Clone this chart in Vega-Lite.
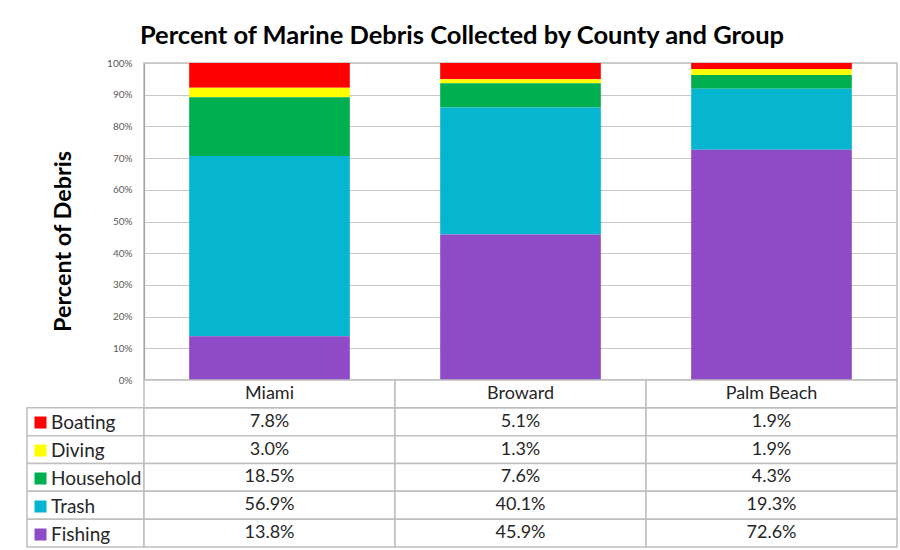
{
  "$schema": "https://vega.github.io/schema/vega-lite/v6.json",
  "padding": {"left": 26, "top": 23, "right": 5, "bottom": 0},
  "autosize": "pad",
  "background": "white",
  "title": {"text": "Percent of Marine Debris Collected by County and Group", "font": "Lato", "fontSize": 25.5, "fontWeight": "bold", "color": "black", "anchor": "middle", "offset": 8},
  "config": {"view": {"stroke": null}, "font": "Lato"},
  "resolve": {"scale": {"color": "independent"}, "legend": {"color": "independent"}},
  "datasets": {
    "debris": [
      {"county": "Miami", "group": "Boating", "pct": 0.078},
      {"county": "Miami", "group": "Diving", "pct": 0.030},
      {"county": "Miami", "group": "Household", "pct": 0.185},
      {"county": "Miami", "group": "Trash", "pct": 0.569},
      {"county": "Miami", "group": "Fishing", "pct": 0.138},
      {"county": "Broward", "group": "Boating", "pct": 0.051},
      {"county": "Broward", "group": "Diving", "pct": 0.013},
      {"county": "Broward", "group": "Household", "pct": 0.076},
      {"county": "Broward", "group": "Trash", "pct": 0.401},
      {"county": "Broward", "group": "Fishing", "pct": 0.459},
      {"county": "Palm Beach", "group": "Boating", "pct": 0.019},
      {"county": "Palm Beach", "group": "Diving", "pct": 0.019},
      {"county": "Palm Beach", "group": "Household", "pct": 0.043},
      {"county": "Palm Beach", "group": "Trash", "pct": 0.193},
      {"county": "Palm Beach", "group": "Fishing", "pct": 0.726}
    ]
  },
  "data": {"name": "debris"},
  "columns": 2,
  "align": "each",
  "bounds": "flush",
  "spacing": 0,
  "concat": [
    {
      "width": 117,
      "height": 317,
      "mark": {"type": "rule", "opacity": 0},
      "encoding": {}
    },
    {
      "width": 753,
      "height": 317,
      "view": {"stroke": "#BFBFBF", "strokeWidth": 1.5},
      "transform": [{"calculate": "indexof(['Fishing', 'Trash', 'Household', 'Diving', 'Boating'], datum.group)", "as": "stackOrder"}],
      "mark": {"type": "bar", "width": {"band": 0.64}},
      "encoding": {
        "x": {"field": "county", "type": "nominal", "sort": ["Miami", "Broward", "Palm Beach"], "scale": {"paddingInner": 0, "paddingOuter": 0}, "axis": null},
        "y": {
          "field": "pct", "type": "quantitative", "stack": "normalize",
          "scale": {"domain": [0, 1], "nice": false},
          "axis": {
            "format": "%", "values": [0, 0.1, 0.2, 0.3, 0.4, 0.5, 0.6, 0.7, 0.8, 0.9, 1],
            "grid": true, "gridColor": "#C8C8C8", "gridWidth": 1.2,
            "domain": true, "domainColor": "#A6A6A6", "domainWidth": 1.2,
            "ticks": false, "tickSize": 0,
            "labelFont": "Lato", "labelFontSize": 10, "labelColor": "#595959", "labelPadding": 12,
            "title": "Percent of Debris", "titleFont": "Lato", "titleFontSize": 23.4, "titleFontWeight": "bold", "titleColor": "black", "titlePadding": 31, "titleY": 178
          }
        },
        "order": {"field": "stackOrder", "type": "quantitative", "sort": "ascending"},
        "color": {
          "field": "group", "type": "nominal",
          "scale": {"domain": ["Boating", "Diving", "Household", "Trash", "Fishing"], "range": ["#FF0000", "#FFFF00", "#00B050", "#06B6D1", "#8F4BC7"]},
          "legend": null
        }
      }
    },
    {
      "width": 117,
      "height": 167,
      "transform": [{"filter": "datum.county === 'Miami'"}],
      "layer": [
        {
          "mark": {"type": "rect", "fill": "white", "stroke": "#BFBFBF", "strokeWidth": 1.5},
          "encoding": {
            "y": {"field": "group", "type": "nominal", "scale": {"domain": ["County", "Boating", "Diving", "Household", "Trash", "Fishing"], "paddingInner": 0, "paddingOuter": 0}, "axis": null}
          }
        },
        {
          "mark": {"type": "square", "opacity": 0, "filled": true},
          "encoding": {
            "y": {"field": "group", "type": "nominal", "axis": null},
            "color": {
              "field": "group", "type": "nominal",
              "scale": {"domain": ["Boating", "Diving", "Household", "Trash", "Fishing"], "range": ["#FF0000", "#FFFF00", "#00B050", "#06B6D1", "#8F4BC7"]},
              "legend": {
                "orient": "none", "legendX": 4, "legendY": 33, "direction": "vertical", "title": null,
                "symbolType": "square", "symbolSize": 144, "symbolStrokeWidth": 0, "symbolOpacity": 1,
                "labelFont": "Lato", "labelFontSize": 19, "labelColor": "#262626", "labelOffset": 1, "rowPadding": 8
              }
            }
          }
        }
      ]
    },
    {
      "width": 753,
      "height": 167,
      "encoding": {
        "x": {"field": "county", "type": "nominal", "sort": ["Miami", "Broward", "Palm Beach"], "scale": {"paddingInner": 0, "paddingOuter": 0}, "axis": null}
      },
      "layer": [
        {
          "mark": {"type": "rect", "fill": "white", "stroke": "#BFBFBF", "strokeWidth": 1.5},
          "encoding": {
            "y": {"field": "group", "type": "nominal", "scale": {"domain": ["County", "Boating", "Diving", "Household", "Trash", "Fishing"], "paddingInner": 0, "paddingOuter": 0}, "axis": null}
          }
        },
        {
          "mark": {"type": "text", "font": "Lato", "fontSize": 18, "color": "#262626"},
          "encoding": {
            "y": {"field": "group", "type": "nominal", "axis": null},
            "text": {"field": "pct", "type": "quantitative", "format": ".1%"}
          }
        },
        {
          "transform": [{"filter": "datum.group === 'Boating'"}],
          "mark": {"type": "rect", "fill": "white", "stroke": "#BFBFBF", "strokeWidth": 1.5},
          "encoding": {
            "y": {"datum": "County", "type": "nominal", "axis": null}
          }
        },
        {
          "transform": [{"filter": "datum.group === 'Boating'"}],
          "mark": {"type": "text", "font": "Lato", "fontSize": 18, "color": "#262626"},
          "encoding": {
            "y": {"datum": "County", "type": "nominal", "axis": null},
            "text": {"field": "county", "type": "nominal"}
          }
        }
      ]
    }
  ]
}
